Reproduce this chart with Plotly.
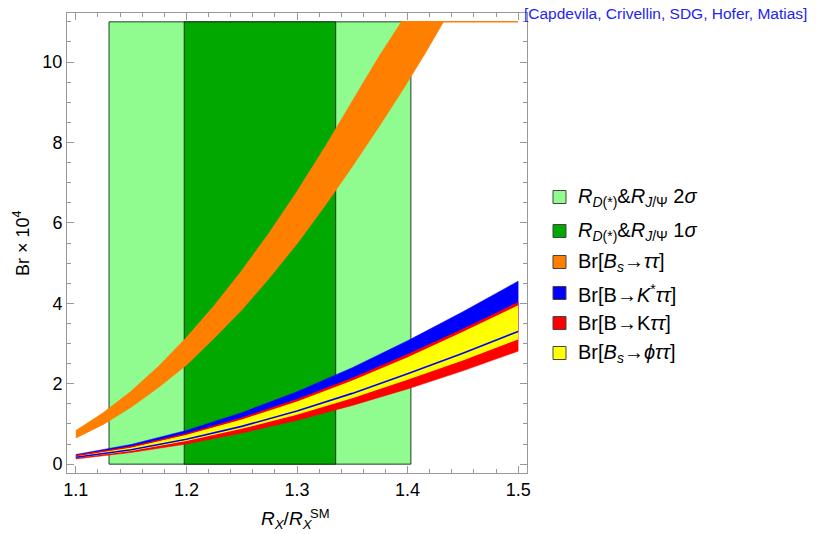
import plotly.graph_objects as go

# ---------------- data ----------------
# Confidence regions for R_X / R_X^SM
sigma2_range = [1.130, 1.403]
sigma1_range = [1.198, 1.335]
region_height = [0.0, 11.0]

# Br(Bs -> tau tau) x 10^4 band (clipped at 11)
x_bs = [1.100, 1.125, 1.150, 1.175, 1.200, 1.225, 1.250, 1.275, 1.300, 1.325, 1.350,
        1.375, 1.395, 1.400, 1.415, 1.432, 1.450, 1.500]
bs_upper = [0.82, 1.27, 1.80, 2.42, 3.13, 3.92, 4.79, 5.74, 6.76, 7.85, 9.01,
            10.15, 11.0, 11.0, 11.0, 11.0, 11.0, 11.0]
bs_lower = [0.66, 1.00, 1.43, 1.93, 2.48, 3.15, 3.85, 4.65, 5.50, 6.44, 7.42,
            8.45, 9.30, 9.53, 10.20, 11.0, 11.0, 11.0]

# Semileptonic bands
x_sl = [1.10, 1.15, 1.20, 1.25, 1.30, 1.35, 1.40, 1.45, 1.50]
kstar_upper = [0.24, 0.49, 0.84, 1.28, 1.80, 2.40, 3.07, 3.79, 4.55]
kstar_lower = [0.17, 0.36, 0.62, 0.94, 1.32, 1.76, 2.25, 2.76, 3.30]
k_upper = [0.21, 0.43, 0.75, 1.14, 1.60, 2.13, 2.72, 3.35, 4.01]
k_lower = [0.13, 0.29, 0.50, 0.775, 1.09, 1.46, 1.87, 2.32, 2.81]
phi_upper = [0.20, 0.42, 0.73, 1.11, 1.56, 2.08, 2.66, 3.29, 3.95]
phi_lower = [0.155, 0.33, 0.575, 0.88, 1.23, 1.64, 2.10, 2.58, 3.10]

x_ticks = [1.1, 1.2, 1.3, 1.4, 1.5]
y_ticks = [0, 2, 4, 6, 8, 10]

legend_labels = [
    "<i>R</i><sub><i>D</i>(*)</sub>&<i>R</i><sub><i>J</i>/Ψ</sub> 2<i>σ</i>",
    "<i>R</i><sub><i>D</i>(*)</sub>&<i>R</i><sub><i>J</i>/Ψ</sub> 1<i>σ</i>",
    "Br[<i>B</i><sub><i>s</i></sub>→<i>ττ</i>]",
    "Br[B→<i>K</i><sup>*</sup><i>ττ</i>]",
    "Br[B→K<i>ττ</i>]",
    "Br[<i>B</i><sub><i>s</i></sub>→<i>ϕττ</i>]",
]
legend_colors = ["#90FC90", "#00A800", "#FF8000", "#0000FF", "#FF0000", "#FFFF00"]
credit = "[Capdevila, Crivellin, SDG, Hofer, Matias]"

FONT = "Liberation Sans, Arial, sans-serif"
LIGHT, DARK, ORANGE, BLUE, RED, YELLOW = legend_colors

fig = go.Figure()


def rect(xr, color):
    fig.add_trace(go.Scatter(
        x=[xr[0], xr[1], xr[1], xr[0], xr[0]],
        y=[region_height[0], region_height[0], region_height[1], region_height[1], region_height[0]],
        mode="lines", fill="toself", fillcolor=color,
        line=dict(color="rgba(20,40,20,0.9)", width=1), hoverinfo="skip", showlegend=False))


def band(x, upper, lower, color, lw=0):
    fig.add_trace(go.Scatter(
        x=list(x) + list(x)[::-1], y=list(upper) + list(lower)[::-1],
        mode="lines", fill="toself", fillcolor=color,
        line=dict(color=color, width=lw), hoverinfo="skip", showlegend=False))


rect(sigma2_range, LIGHT)
rect(sigma1_range, DARK)
band(x_bs, bs_upper, bs_lower, ORANGE, lw=1.5)
band(x_sl, kstar_upper, kstar_lower, BLUE, lw=0.5)
band(x_sl, k_upper, k_lower, RED, lw=0.5)
band(x_sl, phi_upper, phi_lower, YELLOW, lw=0)
# edge lines
fig.add_trace(go.Scatter(x=x_sl, y=kstar_lower, mode="lines",
                         line=dict(color=BLUE, width=1.6), hoverinfo="skip", showlegend=False))
fig.add_trace(go.Scatter(x=x_sl, y=k_upper, mode="lines",
                         line=dict(color=RED, width=1.2), hoverinfo="skip", showlegend=False))

AX = "#999999"
common = dict(showgrid=False, zeroline=False, showline=True, linecolor=AX, linewidth=1,
              mirror="ticks", ticks="inside", ticklen=7, tickwidth=1, tickcolor=AX,
              tickfont=dict(family=FONT, size=18, color="black"))
fig.update_xaxes(range=[1.092, 1.508], tickvals=x_ticks, ticktext=[f"{v:.1f}" for v in x_ticks],
                 minor=dict(ticks="inside", ticklen=4, tickcolor=AX, dtick=0.02, tick0=1.1, showgrid=False),
                 **common)
fig.update_yaxes(range=[-0.22, 11.22], tickvals=y_ticks, ticktext=[str(v) for v in y_ticks],
                 minor=dict(ticks="inside", ticklen=4, tickcolor=AX, dtick=0.5, tick0=0, showgrid=False),
                 **common)

W, H = 816, 534
L, R, T, B = 67, 289, 13, 61
PW, PH = W - L - R, H - T - B


def px(x):
    return (x - L) / PW


def py(y):
    return (H - B - y) / PH


ann = []
# axis titles
ann.append(dict(text="Br × 10<sup>4</sup>", x=px(21), y=py(243), xref="paper", yref="paper",
                xanchor="center", yanchor="middle",
                textangle=-90, showarrow=False, font=dict(family=FONT, size=18, color="black")))
ann.append(dict(text="<i>R</i><sub><i>X</i></sub>/<i>R</i><sub><i>X</i></sub>", x=px(259), y=py(520),
                xref="paper", yref="paper", xanchor="left", yanchor="middle", showarrow=False,
                font=dict(family=FONT, size=19, color="black")))
ann.append(dict(text="SM", x=px(308), y=py(513), xref="paper", yref="paper", xanchor="left",
                yanchor="middle", showarrow=False, font=dict(family=FONT, size=13, color="black")))
# credit
ann.append(dict(text=credit, x=px(522), y=py(14), xref="paper", yref="paper", xanchor="left",
                yanchor="middle", showarrow=False, font=dict(family=FONT, size=15.5, color="#2424F0")))

# custom legend
leg_y = [197, 231, 262, 293, 323, 353]
shapes = []
for lab, col, yy in zip(legend_labels, legend_colors, leg_y):
    shapes.append(dict(type="rect", xref="paper", yref="paper",
                       x0=px(553), x1=px(566), y0=py(yy - 6.5), y1=py(yy + 6.5),
                       fillcolor=col, line=dict(color="#444444", width=1)))
    ann.append(dict(text=lab, x=px(576), y=py(yy), xref="paper", yref="paper", xanchor="left",
                    yanchor="middle", showarrow=False, font=dict(family=FONT, size=20, color="black")))

fig.update_layout(width=W, height=H, margin=dict(l=L, r=R, t=T, b=B),
                  paper_bgcolor="white", plot_bgcolor="white", showlegend=False,
                  annotations=ann, shapes=shapes)

fig.write_html("out.html", config={"displayModeBar": False},
               post_script="document.body.style.margin='0';document.body.style.overflow='hidden';")
